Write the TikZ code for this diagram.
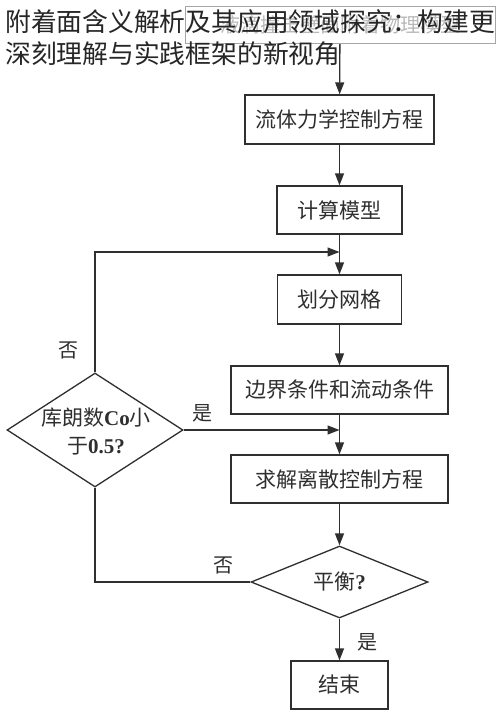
\documentclass[tikz,border=0pt]{standalone}
\usepackage{fontspec}
\setmainfont{Liberation Serif}
\newfontfamily\cjk{Noto Sans CJK SC}
\usetikzlibrary{shapes.geometric,arrows.meta}
\definecolor{ln}{HTML}{2f2f2f}
\begin{document}
\begin{tikzpicture}[x=1pt,y=-1pt,
  every node/.style={font=\cjk\fontsize{21}{24}\selectfont, text=ln},
  box/.style={draw=ln, line width=1.3pt, rectangle, inner sep=0pt},
  dia/.style={draw=ln, line width=1.3pt, diamond, inner sep=0pt},
  conn/.style={draw=ln, line width=1.3pt},
  arr/.style={conn, -{Triangle[length=12pt,width=9pt]}},
  lab/.style={font=\cjk\fontsize{20}{22}\selectfont, text=ln}]
\useasboundingbox (0,0) rectangle (500,716);
\fill[white] (0,0) rectangle (500,716);
% top box (partly hidden)
\node[box, draw=gray!70, line width=1pt, minimum width=310pt, minimum height=37pt, text=gray!55,
  font=\cjk\fontsize{20}{22}\selectfont] (b0) at (340,25) {液滴撞击壁面附着物理模型};
\node[box, minimum width=189pt, minimum height=49pt] (b1) at (339.5,119.5) {流体力学控制方程};
\node[box, minimum width=125pt, minimum height=48pt] (b2) at (339.5,210) {计算模型};
\node[box, minimum width=124pt, minimum height=49pt] (b3) at (339.5,299.5) {划分网格};
\node[box, minimum width=217pt, minimum height=48pt] (b4) at (339.5,390) {边界条件和流动条件};
\node[box, minimum width=217pt, minimum height=48pt] (b5) at (339.5,479) {求解离散控制方程};
\node[dia, minimum width=176pt, minimum height=114pt, aspect=1.54] (d1) at (95,430) {};
\node[align=center, font=\cjk\fontsize{21}{28}\selectfont] (d1t) at (96,431)
  {库朗数\textrm{\bfseries Co}小\\于\textrm{\bfseries 0.5?}};
\node[dia, minimum width=177pt, minimum height=72pt, aspect=2.46] (d2) at (339.5,582) {};
\node (d2t) at (339.5,582) {平衡\textrm{\bfseries ?}};
\node[box, minimum width=97pt, minimum height=48pt] (b6) at (339.5,685) {结束};
% merge points
\coordinate (m1) at (339.5,252);
\coordinate (m2) at (339.5,430);
\coordinate (c1) at (95,252);
\coordinate (c2) at (95,582);
% connectors
\draw[arr] (b0) -- (b1);
\draw[arr] (b1) -- (b2);
\draw[arr] (b2) -- (b3);
\draw[arr] (d1.north) -- (c1) -- (m1);
\draw[arr] (b3) -- (b4);
\draw[arr] (b4) -- (b5);
\draw[arr] (d1.east) -- (m2);
\draw[arr] (b5) -- (d2);
\draw[conn] (d2.west) -- (c2) -- (d1.south);
\draw[arr] (d2) -- (b6);
% labels
\node[lab] (l1) at (68,350) {否};
\node[lab] (l2) at (202,413) {是};
\node[lab] (l3) at (223,565) {否};
\node[lab] (l4) at (367,642) {是};
% title overlay
\node[anchor=west, inner sep=0pt, text=black!85, font=\cjk\fontsize{25.8}{32}\selectfont] (t1) at (5,21.5) {附着面含义解析及其应用领域探究：构建更};
\node[anchor=west, inner sep=0pt, text=black!85, font=\cjk\fontsize{25.8}{32}\selectfont] (t2) at (5,53.5) {深刻理解与实践框架的新视角};
\end{tikzpicture}
\end{document}
